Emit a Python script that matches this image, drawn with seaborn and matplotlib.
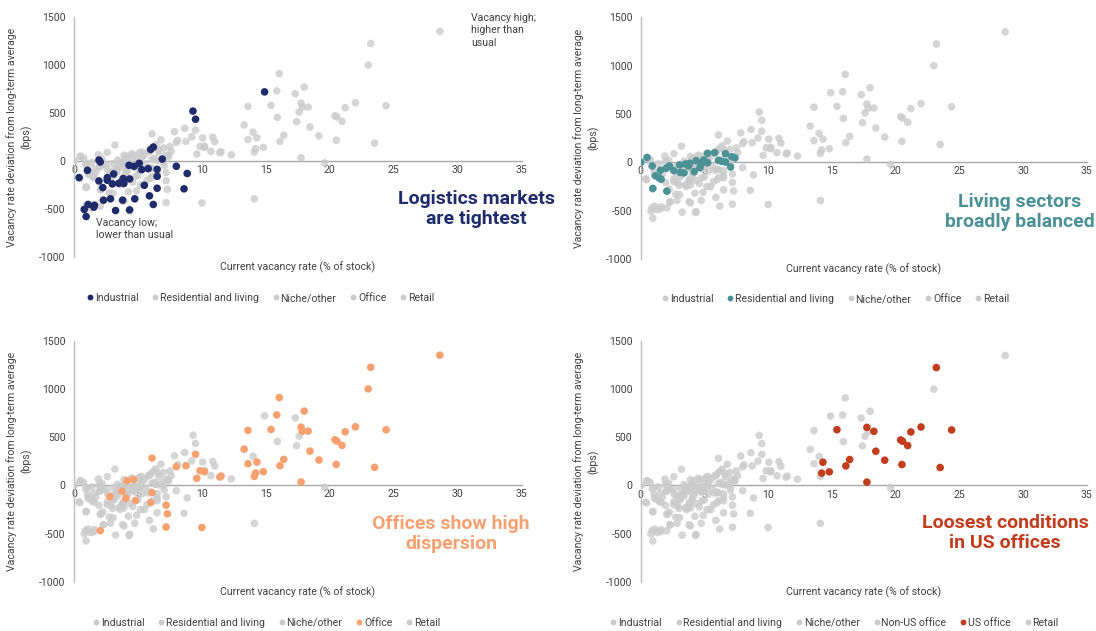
import numpy as np
import pandas as pd
import matplotlib
matplotlib.use("Agg")
import matplotlib.pyplot as plt
import seaborn as sns
from matplotlib.lines import Line2D

sns.set_theme(style="white")
plt.rcParams["font.family"] = ["Roboto", "DejaVu Sans"]

# ---------------- data ----------------
industrial_x = [14.9, 9.3, 9.5, 6.9, 6.2, 6.0, 8.0, 8.85, 8.6, 6.5, 6.5, 6.5, 5.9, 6.2, 5.5, 5.3, 5.1, 5.8,
                4.3, 4.7, 4.35, 3.85, 3.75, 3.9, 3.5, 3.0, 3.1, 2.6, 2.6, 1.95, 1.95, 2.05, 2.25, 2.3, 2.85,
                3.8, 4.75, 4.35, 3.25, 1.55, 1.6, 1.1, 0.8, 0.95, 1.05, 0.4]
industrial_y = [720, 520, 435, 20, 145, 120, -55, -130, -290, -87, -160, -284, -363, -453, -253, -90, -24, -80,
                -45, -55, -187, -183, -211, -235, -232, -239, -135, -173, -200, -208, 10, -10, -277, -408, -394,
                -408, -394, -509, -516, -481, -460, -453, -505, -578, -97, -173]

residential_x = [0.0, 0.5, 0.9, 0.95, 1.15, 1.45, 1.6, 1.55, 2.0, 2.05, 2.25, 2.6, 3.05, 3.1, 3.4, 3.5, 3.75,
                 3.85, 4.2, 4.35, 4.65, 4.75, 4.95, 5.25, 5.25, 5.8, 6.1, 6.35, 6.65, 6.65, 7.05, 7.15, 7.4]
residential_y = [0, 50, -38, -270, -140, -160, -175, -82, -62, -298, -38, -86, -27, -103, -110, -17, -38,
                 -10, -96, 17, -55, -14, 24, 93, -3, 100, 21, 10, 89, 3, -48, 58, 45]

niche_x = [0.0, 0.5, 0.75, 1.05, 1.4, 1.9, 2.0, 2.6, 3.2, 2.75, 3.05, 3.5, 3.9, 4.25, 4.5, 4.9, 5.1, 5.3,
           5.6, 5.9, 6.1, 6.4, 6.8, 7.0, 7.35, 7.6, 7.85, 8.1, 8.65, 9.2, 10.05, 10.2, 10.7, 10.85, 11.0,
           12.3, 14.0, 15.9, 17.3, 17.4, 17.6, 19.6, 14.1]
niche_y = [0, 45, 30, -25, -15, 65, -60, 90, 168, -330, -335, -60, 60, -320, 75, -310, 82, 40,
           -30, 100, -160, 170, 220, 135, 60, 100, 305, 215, 340, 252, 240, 155, 100, 248, 200,
           65, 300, 455, 700, 410, 510, -20, -395]

office_nonus_x = [28.6, 23.0, 16.05, 18.0, 15.85, 17.85, 13.6, 13.3, 13.6, 14.1, 9.5, 8.75, 9.85, 10.2, 9.6,
                  11.5, 11.4, 6.1, 8.0, 4.15, 4.65, 3.75, 2.8, 4.05, 4.8, 6.1, 6.0, 7.2, 7.3, 7.2, 10.0, 2.05]
office_nonus_y = [1350, 1000, 910, 770, 730, 561, 570, 375, 224, 93, 322, 203, 151, 141, 72,
                  96, 86, 282, 193, 48, 62, -62, -117, -134, -158, -76, -179, -206, -296, -433, -437, -471]

office_us_x = [23.2, 17.75, 18.3, 15.4, 22.0, 21.2, 24.4, 20.4, 20.55, 20.95, 18.45, 19.15, 16.4, 16.1,
               20.5, 23.5, 14.3, 14.2, 14.8, 17.75]
office_us_y = [1224, 603, 562, 579, 607, 555, 576, 472, 459, 414, 355, 262, 269, 203,
               217, 186, 241, 128, 141, 34]

retail_x = [0.45, 0.95, 1.1, 1.45, 1.7, 2.1, 2.3, 2.2, 2.5, 2.9, 3.1, 3.3, 3.4, 3.6, 3.8, 4.0, 4.1, 4.3,
            4.6, 4.8, 5.0, 5.2, 5.5, 5.7, 6.0, 6.3, 6.5, 6.6, 7.0, 7.2, 7.5, 0.9, 1.3, 3.9, 4.3]
retail_y = [-180, -275, -130, -165, -120, -300, -410, 20, -40, -210, -150, -90, 10, -250, -180, 20, -110, -30,
            -220, -70, -150, -250, 60, -200, -70, 30, -130, 120, -10, -120, 150, -470, -490, -420, -520]

x_ticks = [0, 5, 10, 15, 20, 25, 30, 35]
y_ticks = [-1000, -500, 0, 500, 1000, 1500]

# ---------------- tidy frame ----------------
frames = []
for xs, ys, s3, s4 in [
    (industrial_x, industrial_y, "Industrial", "Industrial"),
    (residential_x, residential_y, "Residential and living", "Residential and living"),
    (niche_x, niche_y, "Niche/other", "Niche/other"),
    (office_nonus_x, office_nonus_y, "Office", "Non-US office"),
    (office_us_x, office_us_y, "Office", "US office"),
    (retail_x, retail_y, "Retail", "Retail"),
]:
    frames.append(pd.DataFrame({"x": xs, "y": ys, "sector": s3, "sector4": s4}))
df = pd.concat(frames, ignore_index=True)

NAVY = "#1f2c6b"
TEAL = "#4b9196"
ORANGE = "#f7a070"
RED = "#c23d1e"
GREY = "#cbcbcb"
TXT = "#404040"
FS = 7.6

W, H = 1096, 631
fig = plt.figure(figsize=(W / 100, H / 100), dpi=100)

order5 = ["Industrial", "Residential and living", "Niche/other", "Office", "Retail"]
order6 = ["Industrial", "Residential and living", "Niche/other", "Non-US office", "US office", "Retail"]

panels = [
    dict(box=(74, 17, 521.7, 257), col="sector", order=order5, hl="Industrial", color=NAVY,
         title="Logistics markets\nare tightest", tpos=(476, 209), leg=(260, 298), xl=267),
    dict(box=(640.7, 17.3, 1086.7, 259), col="sector", order=order5, hl="Residential and living", color=TEAL,
         title="Living sectors\nbroadly balanced", tpos=(1020, 212), leg=(835, 299), xl=269),
    dict(box=(74, 340.7, 521.7, 581.7), col="sector", order=order5, hl="Office", color=ORANGE,
         title="Offices show high\ndispersion", tpos=(451, 534), leg=(266, 623), xl=592),
    dict(box=(640.7, 341, 1086.7, 581.7), col="sector4", order=order6, hl="US office", color=RED,
         title="Loosest conditions\nin US offices", tpos=(1005, 533), leg=(834, 623), xl=592),
]

for p in panels:
    x0, y0, x1, y1 = p["box"]
    ax = fig.add_axes([x0 / W, 1 - y1 / H, (x1 - x0) / W, (y1 - y0) / H])
    for cat in p["order"]:
        sub = df[df[p["col"]] == cat]
        if cat == p["hl"]:
            sns.scatterplot(data=sub, x="x", y="y", color=p["color"], s=30, edgecolor="none",
                            alpha=1.0, ax=ax, legend=False, zorder=4)
        else:
            sns.scatterplot(data=sub, x="x", y="y", color=GREY, s=30, edgecolor="none",
                            alpha=0.8, ax=ax, legend=False, zorder=3)
    ax.set_xlim(0, 35)
    ax.set_ylim(-1000, 1500)
    ax.set_xticks(x_ticks)
    ax.set_yticks(y_ticks)
    ax.set_xticklabels([str(v) for v in x_ticks])
    ax.set_yticklabels([str(v) for v in y_ticks])
    for s in ["top", "right"]:
        ax.spines[s].set_visible(False)
    ax.spines["bottom"].set_position(("data", 0))
    ax.spines["bottom"].set_color("#a8a8a8")
    ax.spines["left"].set_color("#bdbdbd")
    ax.spines["bottom"].set_linewidth(1.0)
    ax.spines["left"].set_linewidth(1.0)
    ax.tick_params(axis="both", length=0, labelsize=FS, labelcolor=TXT)
    ax.tick_params(axis="y", pad=6)
    ax.tick_params(axis="x", pad=3)
    ax.set_xlabel("")
    ax.set_ylabel("Vacancy rate deviation from long-term average\n(bps)", fontsize=FS, color=TXT,
                  linespacing=1.45)
    ax.yaxis.set_label_coords(-0.092, 0.5)
    ax.set_facecolor("none")
    ax.grid(False)

    fig.text(((x0 + x1) / 2) / W, 1 - p["xl"] / H, "Current vacancy rate (% of stock)",
             ha="center", va="center", fontsize=FS, color=TXT)
    fig.text(p["tpos"][0] / W, 1 - p["tpos"][1] / H, p["title"], ha="center", va="center",
             multialignment="center", fontsize=14, fontweight="bold", color=p["color"], linespacing=1.15)

    handles = []
    for cat in p["order"]:
        c = p["color"] if cat == p["hl"] else GREY
        handles.append(Line2D([0], [0], marker="o", linestyle="none", markersize=4.2,
                              markerfacecolor=c, markeredgecolor="none", label=cat))
    fig.legend(handles=handles, loc="center", bbox_to_anchor=(p["leg"][0] / W, 1 - p["leg"][1] / H),
               ncol=len(handles), frameon=False, fontsize=FS, handletextpad=0.05, columnspacing=1.2,
               handlelength=0.8, borderpad=0, labelcolor=TXT)

# annotations in the first panel
fig.text(471 / W, 1 - 13 / H, "Vacancy high;\nhigher than\nusual", ha="left", va="top",
         fontsize=FS, color=TXT, linespacing=1.3)
fig.text(96 / W, 1 - 218 / H, "Vacancy low;\nlower than usual", ha="left", va="top",
         fontsize=FS, color=TXT, linespacing=1.3)

fig.savefig("out.png", dpi=100)
